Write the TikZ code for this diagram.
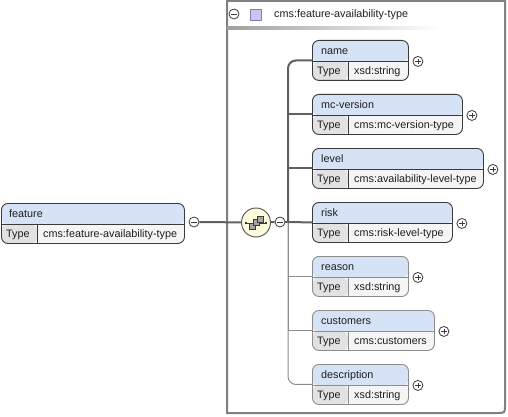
\documentclass[tikz,border=0pt]{standalone}
\usepackage{fontspec}
\setmainfont{Liberation Sans}
\definecolor{hdrbg}{RGB}{214,227,247}
\definecolor{typebg}{RGB}{226,226,226}
\definecolor{valbg}{RGB}{245,245,245}
\definecolor{reqline}{RGB}{58,58,58}
\definecolor{optline}{RGB}{140,140,140}
\definecolor{connline}{RGB}{96,96,96}
\definecolor{grpline}{RGB}{128,128,128}
\definecolor{seqbg}{RGB}{255,252,222}
\definecolor{purpbg}{RGB}{208,194,240}
\definecolor{purpline}{RGB}{138,120,184}
\definecolor{txtcol}{RGB}{30,30,30}

\begin{document}
\begin{tikzpicture}[x=1pt, y=-1pt,
    font=\fontsize{10.8}{12}\selectfont,
    elem/.style={rectangle, rounded corners=6.5pt, draw=#1, line width=0.9pt, fill=valbg,
        minimum height=40pt, inner sep=0pt, anchor=north west,
        path picture={
            \fill[hdrbg] (path picture bounding box.north west) rectangle ([yshift=-21pt]path picture bounding box.north east);
            \fill[typebg] ([yshift=-21pt]path picture bounding box.north west) rectangle ([xshift=35.5pt]path picture bounding box.south west);
            \draw[#1, line width=0.8pt] ([yshift=-21pt]path picture bounding box.north west) -- ([yshift=-21pt]path picture bounding box.north east);
            \draw[#1, line width=0.8pt] ([xshift=35.5pt,yshift=-21pt]path picture bounding box.north west) -- ([xshift=35.5pt]path picture bounding box.south west);
        }},
    txt/.style={inner sep=0pt, anchor=base west, text=txtcol},
    pm/.style={circle, draw=reqline, fill=white, minimum size=10pt, inner sep=0pt, line width=0.8pt},
    plus/.style={pm, path picture={
        \draw[reqline, line width=0.8pt] ([xshift=-2.6pt]path picture bounding box.center) -- ([xshift=2.6pt]path picture bounding box.center)
            ([yshift=-2.6pt]path picture bounding box.center) -- ([yshift=2.6pt]path picture bounding box.center);}},
    minus/.style={pm, path picture={
        \draw[reqline, line width=0.8pt] ([xshift=-2.6pt]path picture bounding box.center) -- ([xshift=2.6pt]path picture bounding box.center);}},
    reqconn/.style={draw=connline, line width=2pt},
    optconn/.style={draw=optline, line width=1pt},
    seqc/.style={circle, draw=connline, fill=seqbg, minimum size=29pt, inner sep=0pt, line width=1pt},
    sq/.style={draw=reqline, fill=gray!70, line width=0.6pt}
]
\useasboundingbox (0,0) rectangle (508,417);

% group box
\draw[grpline, line width=2pt] (227,1) -- (505,1) -- (505,405) .. controls (505,413) .. (497,413) -- (227,413) -- cycle;
\node[minus] (grpminus) at (234,14) {};
\node[draw=purpline, fill=purpbg, minimum size=11pt, inner sep=0pt, line width=0.8pt] (grpicon) at (256,14.5) {};
\node[txt] (grptitle) at (274,18) {cms:feature-availability-type};
\shade[left color=gray!75, right color=white] (227,27) rectangle (440,29.5);

% feature
\node[elem=reqline, minimum width=183pt] (feature) at (1,203) {};
\node[txt] (feature-h) at ([xshift=8pt,yshift=-14.5pt]feature.north west) {feature};
\node[txt] (feature-k) at ([xshift=5pt,yshift=-34.5pt]feature.north west) {Type};
\node[txt] (feature-t) at ([xshift=42pt,yshift=-34.5pt]feature.north west) {cms:feature-availability-type};
\node[minus] (featminus) at (194,222) {};

% sequence
\node[seqc] (seq) at (256,222.5) {};
\begin{scope}[shift={(seq.center)}]
\draw[reqline, line width=0.8pt] (-10,0.5) -- (10,0.5);
\fill[reqline] (-11,-0.5) rectangle (-9,1.5);
\fill[reqline] (9,-0.5) rectangle (11,1.5);
\draw[sq] (-7,0.5) rectangle (-1,6.5);
\draw[sq] (-3,-3) rectangle (3,3);
\draw[sq] (1,-6.5) rectangle (7,-0.5);
\end{scope}
\node[minus] (seqminus) at (280,222) {};

% children
\node[elem=reqline, minimum width=96pt] (name) at (312,40) {};
\node[txt] (name-h) at ([xshift=9pt,yshift=-14.5pt]name.north west) {name};
\node[txt] (name-k) at ([xshift=5pt,yshift=-34.5pt]name.north west) {Type};
\node[txt] (name-t) at ([xshift=42pt,yshift=-34.5pt]name.north west) {xsd:string};
\node[plus] (name-p) at ([xshift=9pt,yshift=-1pt]name.east) {};

\node[elem=reqline, minimum width=150pt] (mcversion) at (312,94) {};
\node[txt] (mcversion-h) at ([xshift=9pt,yshift=-14.5pt]mcversion.north west) {mc-version};
\node[txt] (mcversion-k) at ([xshift=5pt,yshift=-34.5pt]mcversion.north west) {Type};
\node[txt] (mcversion-t) at ([xshift=42pt,yshift=-34.5pt]mcversion.north west) {cms:mc-version-type};
\node[plus] (mcversion-p) at ([xshift=9pt,yshift=-1pt]mcversion.east) {};

\node[elem=reqline, minimum width=171pt] (level) at (312,148) {};
\node[txt] (level-h) at ([xshift=9pt,yshift=-14.5pt]level.north west) {level};
\node[txt] (level-k) at ([xshift=5pt,yshift=-34.5pt]level.north west) {Type};
\node[txt] (level-t) at ([xshift=42pt,yshift=-34.5pt]level.north west) {cms:availability-level-type};
\node[plus] (level-p) at ([xshift=9pt,yshift=-1pt]level.east) {};

\node[elem=reqline, minimum width=140pt] (risk) at (312,202) {};
\node[txt] (risk-h) at ([xshift=9pt,yshift=-14.5pt]risk.north west) {risk};
\node[txt] (risk-k) at ([xshift=5pt,yshift=-34.5pt]risk.north west) {Type};
\node[txt] (risk-t) at ([xshift=42pt,yshift=-34.5pt]risk.north west) {cms:risk-level-type};
\node[plus] (risk-p) at ([xshift=9pt,yshift=-1pt]risk.east) {};

\node[elem=optline, minimum width=96pt] (reason) at (312,256) {};
\node[txt] (reason-h) at ([xshift=9pt,yshift=-14.5pt]reason.north west) {reason};
\node[txt] (reason-k) at ([xshift=5pt,yshift=-34.5pt]reason.north west) {Type};
\node[txt] (reason-t) at ([xshift=42pt,yshift=-34.5pt]reason.north west) {xsd:string};
\node[plus] (reason-p) at ([xshift=9pt,yshift=-1pt]reason.east) {};

\node[elem=optline, minimum width=122pt] (customers) at (312,310) {};
\node[txt] (customers-h) at ([xshift=9pt,yshift=-14.5pt]customers.north west) {customers};
\node[txt] (customers-k) at ([xshift=5pt,yshift=-34.5pt]customers.north west) {Type};
\node[txt] (customers-t) at ([xshift=42pt,yshift=-34.5pt]customers.north west) {cms:customers};
\node[plus] (customers-p) at ([xshift=9pt,yshift=-1pt]customers.east) {};

\node[elem=optline, minimum width=96pt] (description) at (312,364) {};
\node[txt] (description-h) at ([xshift=9pt,yshift=-14.5pt]description.north west) {description};
\node[txt] (description-k) at ([xshift=5pt,yshift=-34.5pt]description.north west) {Type};
\node[txt] (description-t) at ([xshift=42pt,yshift=-34.5pt]description.north west) {xsd:string};
\node[plus] (description-p) at ([xshift=9pt,yshift=-1pt]description.east) {};

% connectors
\coordinate (trunk) at (288,222);
\draw[optconn] (trunk) |- (reason.west);
\draw[optconn] (trunk) |- (customers.west);
\draw[optconn, rounded corners=8pt] (trunk) |- (description.west);
\draw[reqconn] (featminus) -- (seq);
\draw[reqconn] (seq) -- (seqminus);
\draw[reqconn] (seqminus) -- (trunk);
\draw[reqconn, rounded corners=8pt] (trunk) |- (name.west);
\draw[reqconn] (trunk) |- (mcversion.west);
\draw[reqconn] (trunk) |- (level.west);
\draw[reqconn] (trunk) -- (risk.west);
\end{tikzpicture}
\end{document}
